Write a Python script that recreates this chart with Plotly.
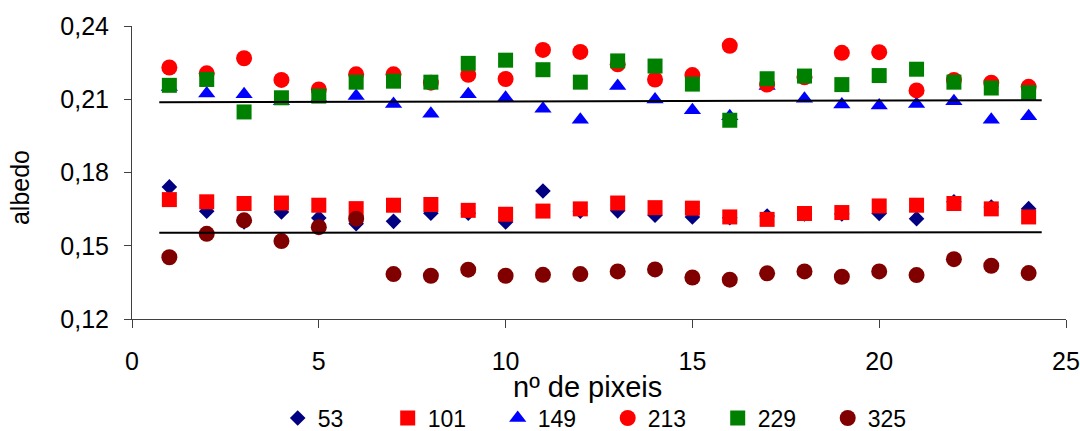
import plotly.graph_objects as go

x = list(range(1, 25))
s53 = [0.1741, 0.1641, 0.1597, 0.1638, 0.1614, 0.1590, 0.1600, 0.1633, 0.1633, 0.1597, 0.1724, 0.1641,
       0.1643, 0.1625, 0.1618, 0.1615, 0.1622, 0.1630, 0.1630, 0.1632, 0.1611, 0.1680, 0.1659, 0.1652]
s101 = [0.1689, 0.1680, 0.1673, 0.1675, 0.1666, 0.1652, 0.1666, 0.1669, 0.1645, 0.1629, 0.1642, 0.1651,
        0.1675, 0.1656, 0.1654, 0.1618, 0.1608, 0.1632, 0.1636, 0.1663, 0.1666, 0.1673, 0.1651, 0.1618]
s149 = [0.2150, 0.2124, 0.2120, 0.2092, 0.2105, 0.2113, 0.2081, 0.2041, 0.2120, 0.2106, 0.2061, 0.2016,
        0.2154, 0.2099, 0.2055, 0.2030, 0.2154, 0.2102, 0.2078, 0.2074, 0.2081, 0.2092, 0.2016, 0.2030]
s213 = [0.2230, 0.2206, 0.2268, 0.2179, 0.2140, 0.2202, 0.2202, 0.2168, 0.2200, 0.2183, 0.2302, 0.2294,
        0.2243, 0.2181, 0.2199, 0.2319, 0.2160, 0.2190, 0.2290, 0.2293, 0.2136, 0.2179, 0.2168, 0.2151]
s229 = [0.2157, 0.2181, 0.2048, 0.2106, 0.2113, 0.2170, 0.2174, 0.2170, 0.2247, 0.2260, 0.2221, 0.2170,
        0.2257, 0.2236, 0.2162, 0.2014, 0.2184, 0.2195, 0.2160, 0.2197, 0.2223, 0.2170, 0.2146, 0.2127]
s325 = [0.1453, 0.1549, 0.1604, 0.1519, 0.1576, 0.1611, 0.1384, 0.1377, 0.1402, 0.1377, 0.1381, 0.1384,
        0.1395, 0.1403, 0.1370, 0.1361, 0.1387, 0.1395, 0.1373, 0.1395, 0.1380, 0.1445, 0.1418, 0.1388]

trend_x = [0.73, 24.35]
trend_upper = [0.2088, 0.2096]
trend_lower = [0.1553, 0.1555]

x_ticks = [0, 5, 10, 15, 20, 25]
y_ticks = [0.12, 0.15, 0.18, 0.21, 0.24]

series = [
    ("53", s53, "diamond", "#000080", 12),
    ("101", s101, "square", "#FF0000", 15),
    ("149", s149, "triangle-up", "#0000FF", 15),
    ("213", s213, "circle", "#FF0000", 16),
    ("229", s229, "square", "#008000", 15),
    ("325", s325, "circle", "#800000", 16),
]

fig = go.Figure()
for name, ys, sym, col, sz in series:
    fig.add_trace(go.Scatter(x=x, y=ys, mode="markers", name=name,
                             marker=dict(symbol=sym, color=col, size=sz, line=dict(width=0))))
for ys in (trend_upper, trend_lower):
    fig.add_trace(go.Scatter(x=trend_x, y=ys, mode="lines", showlegend=False,
                             line=dict(color="black", width=2), hoverinfo="skip"))

font = "Liberation Sans, Arial, sans-serif"
fig.update_layout(
    width=1080, height=431,
    margin=dict(l=132, r=14, t=26, b=112),
    paper_bgcolor="white", plot_bgcolor="white",
    separators=", ",
    font=dict(family=font, size=25, color="black"),
    showlegend=True,
    legend=dict(orientation="h", x=0.156, xanchor="left", xref="paper",
                y=0.030, yanchor="middle", yref="container",
                bgcolor="rgba(0,0,0,0)", font=dict(size=23), entrywidth=65,
                entrywidthmode="pixels", tracegroupgap=0, itemsizing="trace", borderwidth=0),
    xaxis=dict(range=[0, 25], tickvals=x_ticks, showgrid=False, zeroline=False,
               showline=True, linecolor="#404040", linewidth=1, ticks="outside", ticklen=8,
               tickcolor="#404040", ticklabelstandoff=12, automargin=False),
    yaxis=dict(range=[0.12, 0.24], tickvals=y_ticks, tickformat=".2f", showgrid=False,
               zeroline=False, showline=True, linecolor="#404040", linewidth=1,
               ticks="outside", ticklen=7, tickcolor="#404040", ticklabelstandoff=10,
               automargin=False),
    annotations=[
        dict(text="albedo", xref="paper", yref="paper", x=-0.12, y=0.45,
             xanchor="center", yanchor="middle", textangle=-90, showarrow=False,
             font=dict(size=25)),
        dict(text="nº de pixeis", xref="paper", yref="paper", x=0.488, y=-0.232,
             xanchor="center", yanchor="middle", showarrow=False, font=dict(size=29)),
    ],
)
fig.write_html("out.html", config={"displayModeBar": False},
               post_script="document.body.style.margin='0';")
